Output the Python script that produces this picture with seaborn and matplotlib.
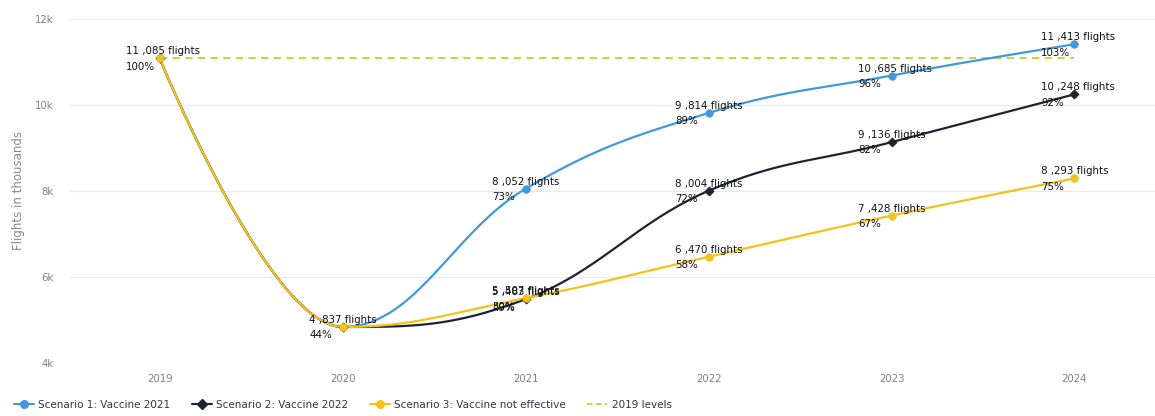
import numpy as np
import pandas as pd
import matplotlib
matplotlib.use("Agg")
import matplotlib.pyplot as plt
import seaborn as sns
from matplotlib.lines import Line2D

years = ["2019", "2020", "2021", "2022", "2023", "2024"]
scenario1 = [11085, 4837, 8052, 9814, 10685, 11413]
scenario2 = [11085, 4837, 5483, 8004, 9136, 10248]
scenario3 = [11085, 4837, 5507, 6470, 7428, 8293]
level_2019 = 11085
series_names = ["Scenario 1: Vaccine 2021", "Scenario 2: Vaccine 2022",
                "Scenario 3: Vaccine not effective"]
pct1 = ["100%", "44%", "73%", "89%", "96%", "103%"]
pct2 = ["", "", "49%", "72%", "82%", "92%"]
pct3 = ["", "", "50%", "58%", "67%", "75%"]
ytick_vals = [4000, 6000, 8000, 10000, 12000]
ytick_labels = ["4k", "6k", "8k", "10k", "12k"]

colors = ["#4398dd", "#1c2433", "#f3c21b"]
level_color = "#b5d334"
markers = ["o", "D", "o"]


def spline_path(xs, ys, n=40):
    """Highcharts-style spline rendering of a series (display only)."""
    xs = np.asarray(xs, float)
    ys = np.asarray(ys, float)
    m = len(xs)
    lc = [(xs[i], ys[i]) for i in range(m)]
    rc = [(xs[i], ys[i]) for i in range(m)]
    sm = 1.5
    for i in range(1, m - 1):
        px, py = xs[i - 1], ys[i - 1]
        nx, ny = xs[i + 1], ys[i + 1]
        x, y = xs[i], ys[i]
        lx = (sm * x + px) / (sm + 1)
        ly = (sm * y + py) / (sm + 1)
        rx = (sm * x + nx) / (sm + 1)
        ry = (sm * y + ny) / (sm + 1)
        corr = (ry - ly) * (rx - x) / (rx - lx) + y - ry
        ly += corr
        ry += corr
        if ly > py and ly > y:
            ly = max(py, y); ry = 2 * y - ly
        elif ly < py and ly < y:
            ly = min(py, y); ry = 2 * y - ly
        if ry > ny and ry > y:
            ry = max(ny, y); ly = 2 * y - ry
        elif ry < ny and ry < y:
            ry = min(ny, y); ly = 2 * y - ry
        lc[i] = (lx, ly)
        rc[i] = (rx, ry)
    outx, outy = [], []
    t = np.linspace(0, 1, n)
    for i in range(m - 1):
        p0 = np.array([xs[i], ys[i]])
        p1 = np.array(rc[i])
        p2 = np.array(lc[i + 1])
        p3 = np.array([xs[i + 1], ys[i + 1]])
        b = ((1 - t) ** 3)[:, None] * p0 + (3 * (1 - t) ** 2 * t)[:, None] * p1 \
            + (3 * (1 - t) * t ** 2)[:, None] * p2 + (t ** 3)[:, None] * p3
        outx.extend(b[:, 0]); outy.extend(b[:, 1])
    return np.array(outx), np.array(outy)


sns.set_theme(style="white")
plt.rcParams["font.family"] = ["DejaVu Sans"]

fig = plt.figure(figsize=(11.55, 4.16), dpi=100)
ax = fig.add_axes([70 / 1155, 1 - 363 / 416, 1 - 70 / 1155, (363 - 19) / 416])

xi = np.arange(len(years))

# 2019 level line
sns.lineplot(x=[xi[0], xi[-1]], y=[level_2019, level_2019], ax=ax, color=level_color,
             linestyle=(0, (4, 3)), linewidth=1.3, zorder=2)

all_series = [scenario1, scenario2, scenario3]
for k in [2, 1, 0]:
    vals = all_series[k]
    px, py = spline_path(xi, vals)
    sns.lineplot(x=px, y=py, sort=False, estimator=None, ax=ax, color=colors[k],
                 linewidth=1.6, zorder=3 + k)
    sns.scatterplot(x=xi, y=vals, ax=ax, color=colors[k], marker=markers[k],
                    s=30 if markers[k] == "o" else 22, edgecolor=colors[k],
                    linewidth=0.5, zorder=6 + k)


def fmt(v):
    s = f"{v:,}"
    return s.replace(",", " ,") + " flights"


def label(i, v, p):
    ax.annotate(fmt(v), (xi[i], v), xytext=(-24, 5), textcoords="offset points",
                fontsize=7.4, color="#111111", ha="left", va="center", zorder=10)
    ax.annotate(p, (xi[i], v), xytext=(-24, -6), textcoords="offset points",
                fontsize=7.4, color="#111111", ha="left", va="center", zorder=10)


label(0, scenario1[0], pct1[0])
label(1, scenario1[1], pct1[1])
for i in range(2, 6):
    label(i, scenario1[i], pct1[i])
    label(i, scenario2[i], pct2[i])
    label(i, scenario3[i], pct3[i])

ax.set_xlim(-0.49, 5.44)
ax.set_ylim(4000, 12000)
ax.set_xticks(xi)
ax.set_xticklabels(years)
ax.set_yticks(ytick_vals)
ax.set_yticklabels(ytick_labels)
ax.tick_params(axis="both", labelsize=7.3, colors="#808080", length=0)
ax.tick_params(axis="x", pad=8)
ax.tick_params(axis="y", pad=12)
for lbl in ax.get_yticklabels():
    lbl.set_ha("right")
ax.grid(axis="y", color="#ebebeb", linewidth=0.9)
ax.grid(axis="x", visible=False)
for sp in ax.spines.values():
    sp.set_visible(False)
ax.set_ylabel("Flights in thousands", fontsize=8.5, color="#888888", labelpad=4)
ax.yaxis.set_label_coords(-45 / (1155 - 70), 0.5)
ax.set_xlabel("")

handles = [Line2D([0], [0], color=colors[k], marker=markers[k], markersize=5.5,
                  linewidth=1.5) for k in range(3)]
handles.append(Line2D([0], [0], color=level_color, linestyle=(0, (3, 2)), linewidth=1.3))
labels = series_names + ["2019 levels"]
fig.legend(handles, labels, loc="lower left", bbox_to_anchor=(0.004, -0.008), ncol=4,
           frameon=False, fontsize=7.5, handlelength=1.9, columnspacing=2.05,
           handletextpad=0.45, labelcolor="#333344")

fig.savefig("out.png", dpi=100)
